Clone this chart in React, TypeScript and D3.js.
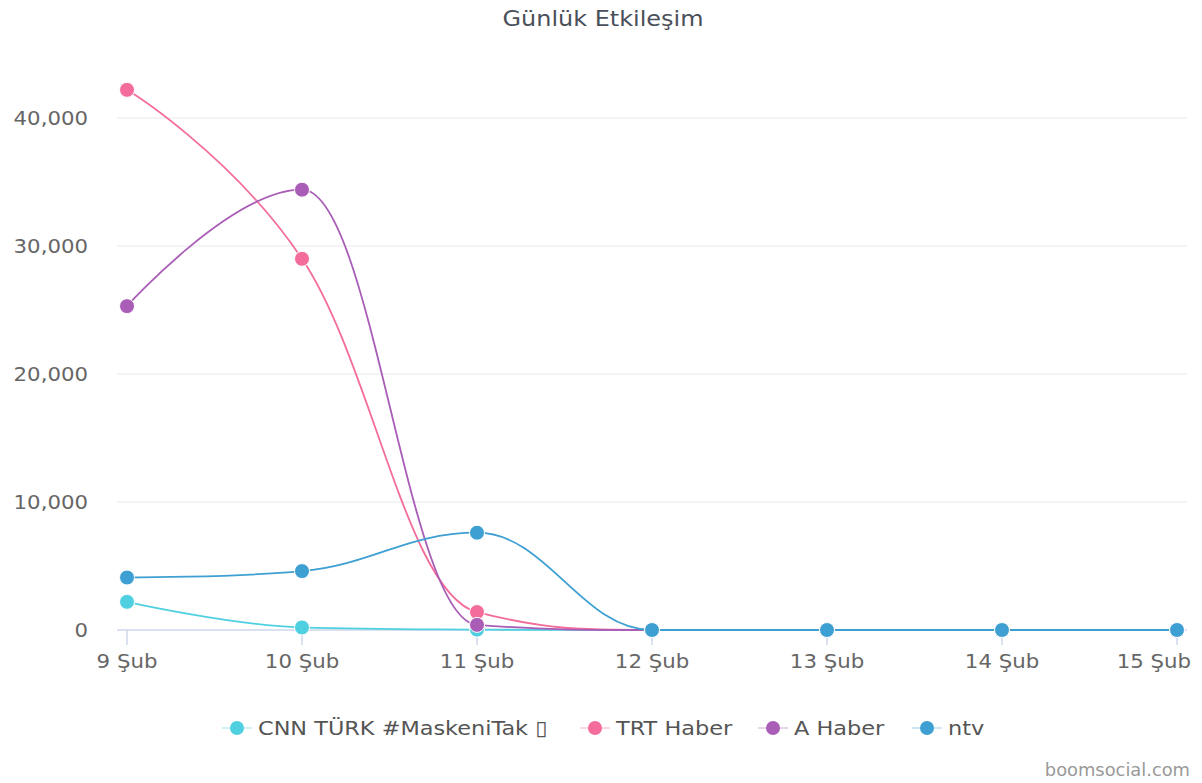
import React from 'react';
import * as d3 from 'd3';

const categories = ['9 Şub', '10 Şub', '11 Şub', '12 Şub', '13 Şub', '14 Şub', '15 Şub'];
const cnnTurk = [2200, 200, 30, 0, 0, 0, 0];
const trtHaber = [42200, 29000, 1400, 0, 0, 0, 0];
const aHaber = [25300, 34400, 400, 0, 0, 0, 0];
const ntv = [4100, 4600, 7600, 0, 0, 0, 0];
const yTicks = [0, 10000, 20000, 30000, 40000];
const seriesNames = ['CNN TÜRK #MaskeniTak ▯', 'TRT Haber', 'A Haber', 'ntv'];
const seriesColors = ['#4fd0e0', '#f36c9b', '#a95db6', '#3ea0d2'];
const seriesValues = [cnnTurk, trtHaber, aHaber, ntv];

const W = 1202;
const H = 783;
const plotLeft = 117;
const plotRight = 1187;
const FONT = '"DejaVu Sans", Verdana, sans-serif';
const SX = 1.12;

// Highcharts-style spline: smoothed cubic segments with overshoot clamping
function splinePath(pts: [number, number][]): string {
  const p = d3.path();
  const smoothing = 1.5;
  const denom = smoothing + 1;
  const right: ([number, number] | null)[] = pts.map(() => null);
  const left: ([number, number] | null)[] = pts.map(() => null);
  for (let i = 1; i < pts.length - 1; i++) {
    const [x, y] = pts[i];
    const [lx, ly] = pts[i - 1];
    const [nx, ny] = pts[i + 1];
    const lcx = (smoothing * x + lx) / denom;
    let lcy = (smoothing * y + ly) / denom;
    const rcx = (smoothing * x + nx) / denom;
    let rcy = (smoothing * y + ny) / denom;
    let corr = 0;
    if (rcx !== lcx) corr = ((rcy - lcy) * (rcx - x)) / (rcx - lcx) + y - rcy;
    lcy += corr;
    rcy += corr;
    if (lcy > ly && lcy > y) {
      lcy = Math.max(ly, y);
      rcy = 2 * y - lcy;
    } else if (lcy < ly && lcy < y) {
      lcy = Math.min(ly, y);
      rcy = 2 * y - lcy;
    }
    if (rcy > ny && rcy > y) {
      rcy = Math.max(ny, y);
      lcy = 2 * y - rcy;
    } else if (rcy < ny && rcy < y) {
      rcy = Math.min(ny, y);
      lcy = 2 * y - rcy;
    }
    left[i] = [lcx, lcy];
    right[i] = [rcx, rcy];
  }
  pts.forEach((pt, i) => {
    if (i === 0) {
      p.moveTo(pt[0], pt[1]);
      return;
    }
    const c1 = right[i - 1] ?? pts[i - 1];
    const c2 = left[i] ?? pt;
    p.bezierCurveTo(c1[0], c1[1], c2[0], c2[1], pt[0], pt[1]);
  });
  return p.toString();
}

type TProps = {
  x: number;
  y: number;
  size: number;
  fill: string;
  anchor?: 'start' | 'middle' | 'end';
  sx?: number;
  children: React.ReactNode;
};

// Text drawn with a slight horizontal widening
function WideText({ x, y, size, fill, anchor = 'start', sx = SX, children }: TProps) {
  return (
    <g transform={`translate(${x},${y}) scale(${sx},1)`}>
      <text x={0} y={0} textAnchor={anchor} fontSize={size} fill={fill}>
        {children}
      </text>
    </g>
  );
}

const legendX = [237, 595, 773, 927];

export default function App() {
  const x = d3.scalePoint<string>().domain(categories).range([127, 1177]);
  const y = d3.scaleLinear().domain([0, 40000]).range([630, 118]);
  const fmt = d3.format(',');

  return (
    <svg
      width={W}
      height={H}
      style={{ position: 'absolute', left: 0, top: 0, background: '#fff' }}
      fontFamily={FONT}
    >
      <rect width={W} height={H} fill="#fff" />
      <WideText x={603} y={26} size={21} fill="#4a5059" anchor="middle" sx={1.14}>
        Günlük Etkileşim
      </WideText>

      {/* grid + y labels */}
      {yTicks.map((t) => (
        <g key={t}>
          {t !== 0 && (
            <line x1={plotLeft} x2={plotRight} y1={y(t)} y2={y(t)} stroke="#f0f0f0" strokeWidth={1.5} />
          )}
          <WideText x={88} y={y(t) + 7} size={19} fill="#666" anchor="end">
            {fmt(t)}
          </WideText>
        </g>
      ))}

      {/* x axis */}
      <line x1={plotLeft} x2={plotRight} y1={y(0)} y2={y(0)} stroke="#ccd6eb" strokeWidth={1.5} />
      {categories.map((c, i) => {
        const last = i === categories.length - 1;
        return (
          <g key={c}>
            <line x1={x(c)!} x2={x(c)!} y1={y(0)} y2={y(0) + 15} stroke="#ccd6eb" strokeWidth={1.5} />
            <WideText
              x={last ? 1191 : x(c)!}
              y={668}
              size={19}
              fill="#666"
              anchor={last ? 'end' : 'middle'}
            >
              {c}
            </WideText>
          </g>
        );
      })}

      {/* series */}
      {seriesValues.map((vals, si) => {
        const pts: [number, number][] = vals.map((v, i) => [x(categories[i])!, y(v)]);
        return (
          <path
            key={seriesNames[si]}
            d={splinePath(pts)}
            fill="none"
            stroke={seriesColors[si]}
            strokeWidth={1.8}
          />
        );
      })}
      {seriesValues.map((vals, si) => (
        <g key={'m' + si}>
          {vals.map((v, i) => (
            <circle
              key={i}
              cx={x(categories[i])!}
              cy={y(v)}
              r={7.5}
              fill={seriesColors[si]}
              stroke="#fff"
              strokeWidth={1}
            />
          ))}
        </g>
      ))}

      {/* legend */}
      {seriesNames.map((n, i) => (
        <g key={n} transform={`translate(${legendX[i]},728)`}>
          <line x1={-15} x2={15} y1={0} y2={0} stroke={seriesColors[i]} strokeWidth={1.5} opacity={0.35} />
          <circle r={7} fill={seriesColors[i]} />
          <WideText x={21} y={7} size={20} fill="#555">
            {n}
          </WideText>
        </g>
      ))}

      <WideText x={1190} y={776} size={17} fill="#999" anchor="end" sx={1.05}>
        boomsocial.com
      </WideText>
    </svg>
  );
}
